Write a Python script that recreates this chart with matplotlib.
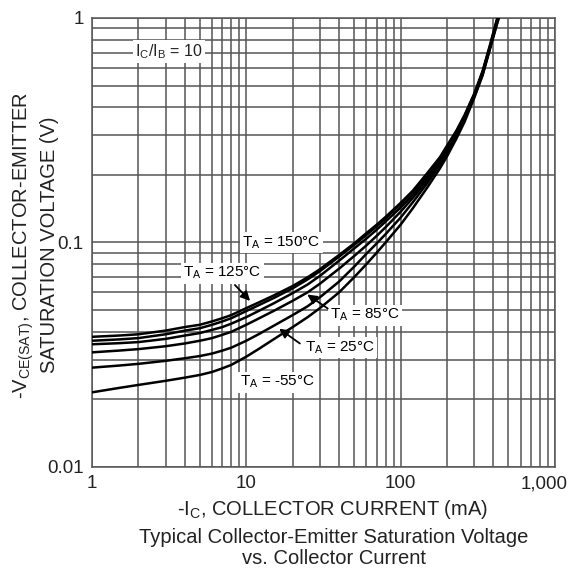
import numpy as np
import matplotlib
matplotlib.use("Agg")
from matplotlib import pyplot as plt
from matplotlib.ticker import LogLocator, NullFormatter
from matplotlib.transforms import ScaledTranslation

plt.rcParams['font.family'] = ['Liberation Sans', 'DejaVu Sans']

# collector current (mA)
ic = [1, 1.5, 2, 3, 4, 5, 6, 7, 8, 10, 12, 15, 20, 25, 30, 40, 50, 60, 70, 80,
      100, 120, 150, 180, 200, 230, 260, 300, 340, 380, 420, 450]

# -VCE(sat) in volts, one list per temperature
v_150 = [0.038, 0.0385, 0.039, 0.0405, 0.042, 0.043, 0.0445, 0.046, 0.0475, 0.051, 0.054, 0.058,
         0.064, 0.070, 0.076, 0.088, 0.099, 0.11, 0.12, 0.13, 0.15, 0.17, 0.205, 0.24, 0.27,
         0.315, 0.37, 0.46, 0.58, 0.76, 0.98, 1.15]
v_125 = [0.0365, 0.037, 0.0375, 0.039, 0.0405, 0.0415, 0.043, 0.0445, 0.046, 0.0495, 0.0525, 0.0565,
         0.0625, 0.0685, 0.0745, 0.0865, 0.0975, 0.108, 0.118, 0.128, 0.148, 0.168, 0.2, 0.235, 0.265,
         0.31, 0.365, 0.455, 0.575, 0.75, 0.97, 1.14]
v_100 = [0.0352, 0.0356, 0.036, 0.0372, 0.0385, 0.0395, 0.0408, 0.042, 0.0435, 0.0465, 0.0495, 0.0535,
         0.0595, 0.065, 0.071, 0.083, 0.094, 0.104, 0.114, 0.124, 0.143, 0.163, 0.195, 0.23, 0.262,
         0.308, 0.362, 0.452, 0.57, 0.745, 0.96, 1.13]
v_85 = [0.0324, 0.033, 0.0335, 0.0345, 0.0355, 0.0365, 0.0375, 0.0388, 0.040, 0.043, 0.0458, 0.0495,
        0.055, 0.060, 0.0655, 0.0765, 0.087, 0.097, 0.107, 0.117, 0.137, 0.158, 0.19, 0.227, 0.258,
        0.305, 0.36, 0.45, 0.565, 0.74, 0.95, 1.12]
v_25 = [0.0277, 0.0283, 0.0288, 0.0297, 0.0305, 0.0312, 0.032, 0.033, 0.034, 0.0365, 0.039, 0.0425,
        0.0475, 0.052, 0.057, 0.067, 0.078, 0.089, 0.099, 0.109, 0.129, 0.151, 0.185, 0.222, 0.25,
        0.3, 0.355, 0.445, 0.56, 0.735, 0.94, 1.1]
v_m55 = [0.0215, 0.0225, 0.0232, 0.0242, 0.025, 0.0257, 0.0265, 0.0275, 0.0285, 0.031, 0.0335, 0.037,
         0.042, 0.0465, 0.051, 0.06, 0.07, 0.08, 0.09, 0.1, 0.12, 0.142, 0.177, 0.214, 0.242,
         0.29, 0.345, 0.44, 0.555, 0.73, 0.93, 1.09]

curves = [v_150, v_125, v_100, v_85, v_25, v_m55]

xticks = [1, 10, 100, 1000]
xtick_labels = ['1', '10', '100', '1,000']
yticks = [0.01, 0.1, 1]
ytick_labels = ['0.01', '0.1', '1']

txt = '#222222'

fig = plt.figure(figsize=(5.75, 5.72), dpi=100)
ax = fig.add_axes([0.16, 0.1836, 0.805, 0.785])

for v in curves:
    ax.plot(ic, v, color='black', lw=1.8, zorder=3)

ax.set_xscale('log')
ax.set_yscale('log')
ax.set_xlim(1, 1000)
ax.set_ylim(0.01, 1)

ax.set_xticks(xticks)
ax.set_xticklabels(xtick_labels)
ax.set_yticks(yticks)
ax.set_yticklabels(ytick_labels)
ax.xaxis.set_minor_locator(LogLocator(base=10, subs=np.arange(2, 10)))
ax.yaxis.set_minor_locator(LogLocator(base=10, subs=np.arange(2, 10)))
ax.xaxis.set_minor_formatter(NullFormatter())
ax.yaxis.set_minor_formatter(NullFormatter())
ax.tick_params(which='both', length=0, labelsize=13.5, colors=txt)
ax.tick_params(axis='x', pad=6)
ax.tick_params(axis='y', pad=6)

# last x label sits a bit left of the axis end, like the original
last = ax.get_xticklabels()[-1]
last.set_transform(last.get_transform() + ScaledTranslation(-8 / 72, 0, fig.dpi_scale_trans))

ax.grid(which='both', color='#555555', lw=1.1)
for s in ax.spines.values():
    s.set_color('#555555')
    s.set_linewidth(1.1)

fig.text(0.578, 0.11, '-I$_\\mathregular{C}$, COLLECTOR CURRENT (mA)', fontsize=14.5, color=txt,
         ha='center', va='center')
fig.text(0.061, 0.572, '-V$_\\mathregular{CE(SAT)}$, COLLECTOR-EMITTER\nSATURATION VOLTAGE (V)',
         fontsize=14.5, color=txt, ha='center', va='center', rotation=90, linespacing=1.25)
fig.text(0.58, 0.042, 'Typical Collector-Emitter Saturation Voltage\nvs. Collector Current',
         ha='center', va='center', fontsize=14.5, color=txt, linespacing=1.15)

box = dict(facecolor='white', edgecolor='none', pad=1.5)
ax.text(1.9, 0.706, 'I$_\\mathregular{C}$/I$_\\mathregular{B}$ = 10', fontsize=11.5, ha='left', va='center',
        bbox=box, zorder=4, color=txt)
ax.text(9.4, 0.0995, 'T$_\\mathregular{A}$ = 150°C', fontsize=11, ha='left', va='center', bbox=box, zorder=4)
ax.text(3.89, 0.0731, 'T$_\\mathregular{A}$ = 125°C', fontsize=11, ha='left', va='center', bbox=box, zorder=4)
ax.text(34.9, 0.0475, 'T$_\\mathregular{A}$ = 85°C', fontsize=11, ha='left', va='center', bbox=box, zorder=4)
ax.text(24, 0.0339, 'T$_\\mathregular{A}$ = 25°C', fontsize=11, ha='left', va='center', bbox=box, zorder=4)
ax.text(9.1, 0.0239, 'T$_\\mathregular{A}$ = -55°C', fontsize=11, ha='left', va='center', bbox=box, zorder=4)

arrow = dict(arrowstyle='-|>', color='black', lw=1.3, mutation_scale=14)
ax.annotate('', xy=(10.9, 0.0538), xytext=(8.2, 0.066), arrowprops=arrow, zorder=5)
ax.annotate('', xy=(24, 0.0596), xytext=(34.9, 0.05), arrowprops=arrow, zorder=5)
ax.annotate('', xy=(15.8, 0.042), xytext=(23, 0.0349), arrowprops=arrow, zorder=5)

plt.savefig('out.png', dpi=100)
